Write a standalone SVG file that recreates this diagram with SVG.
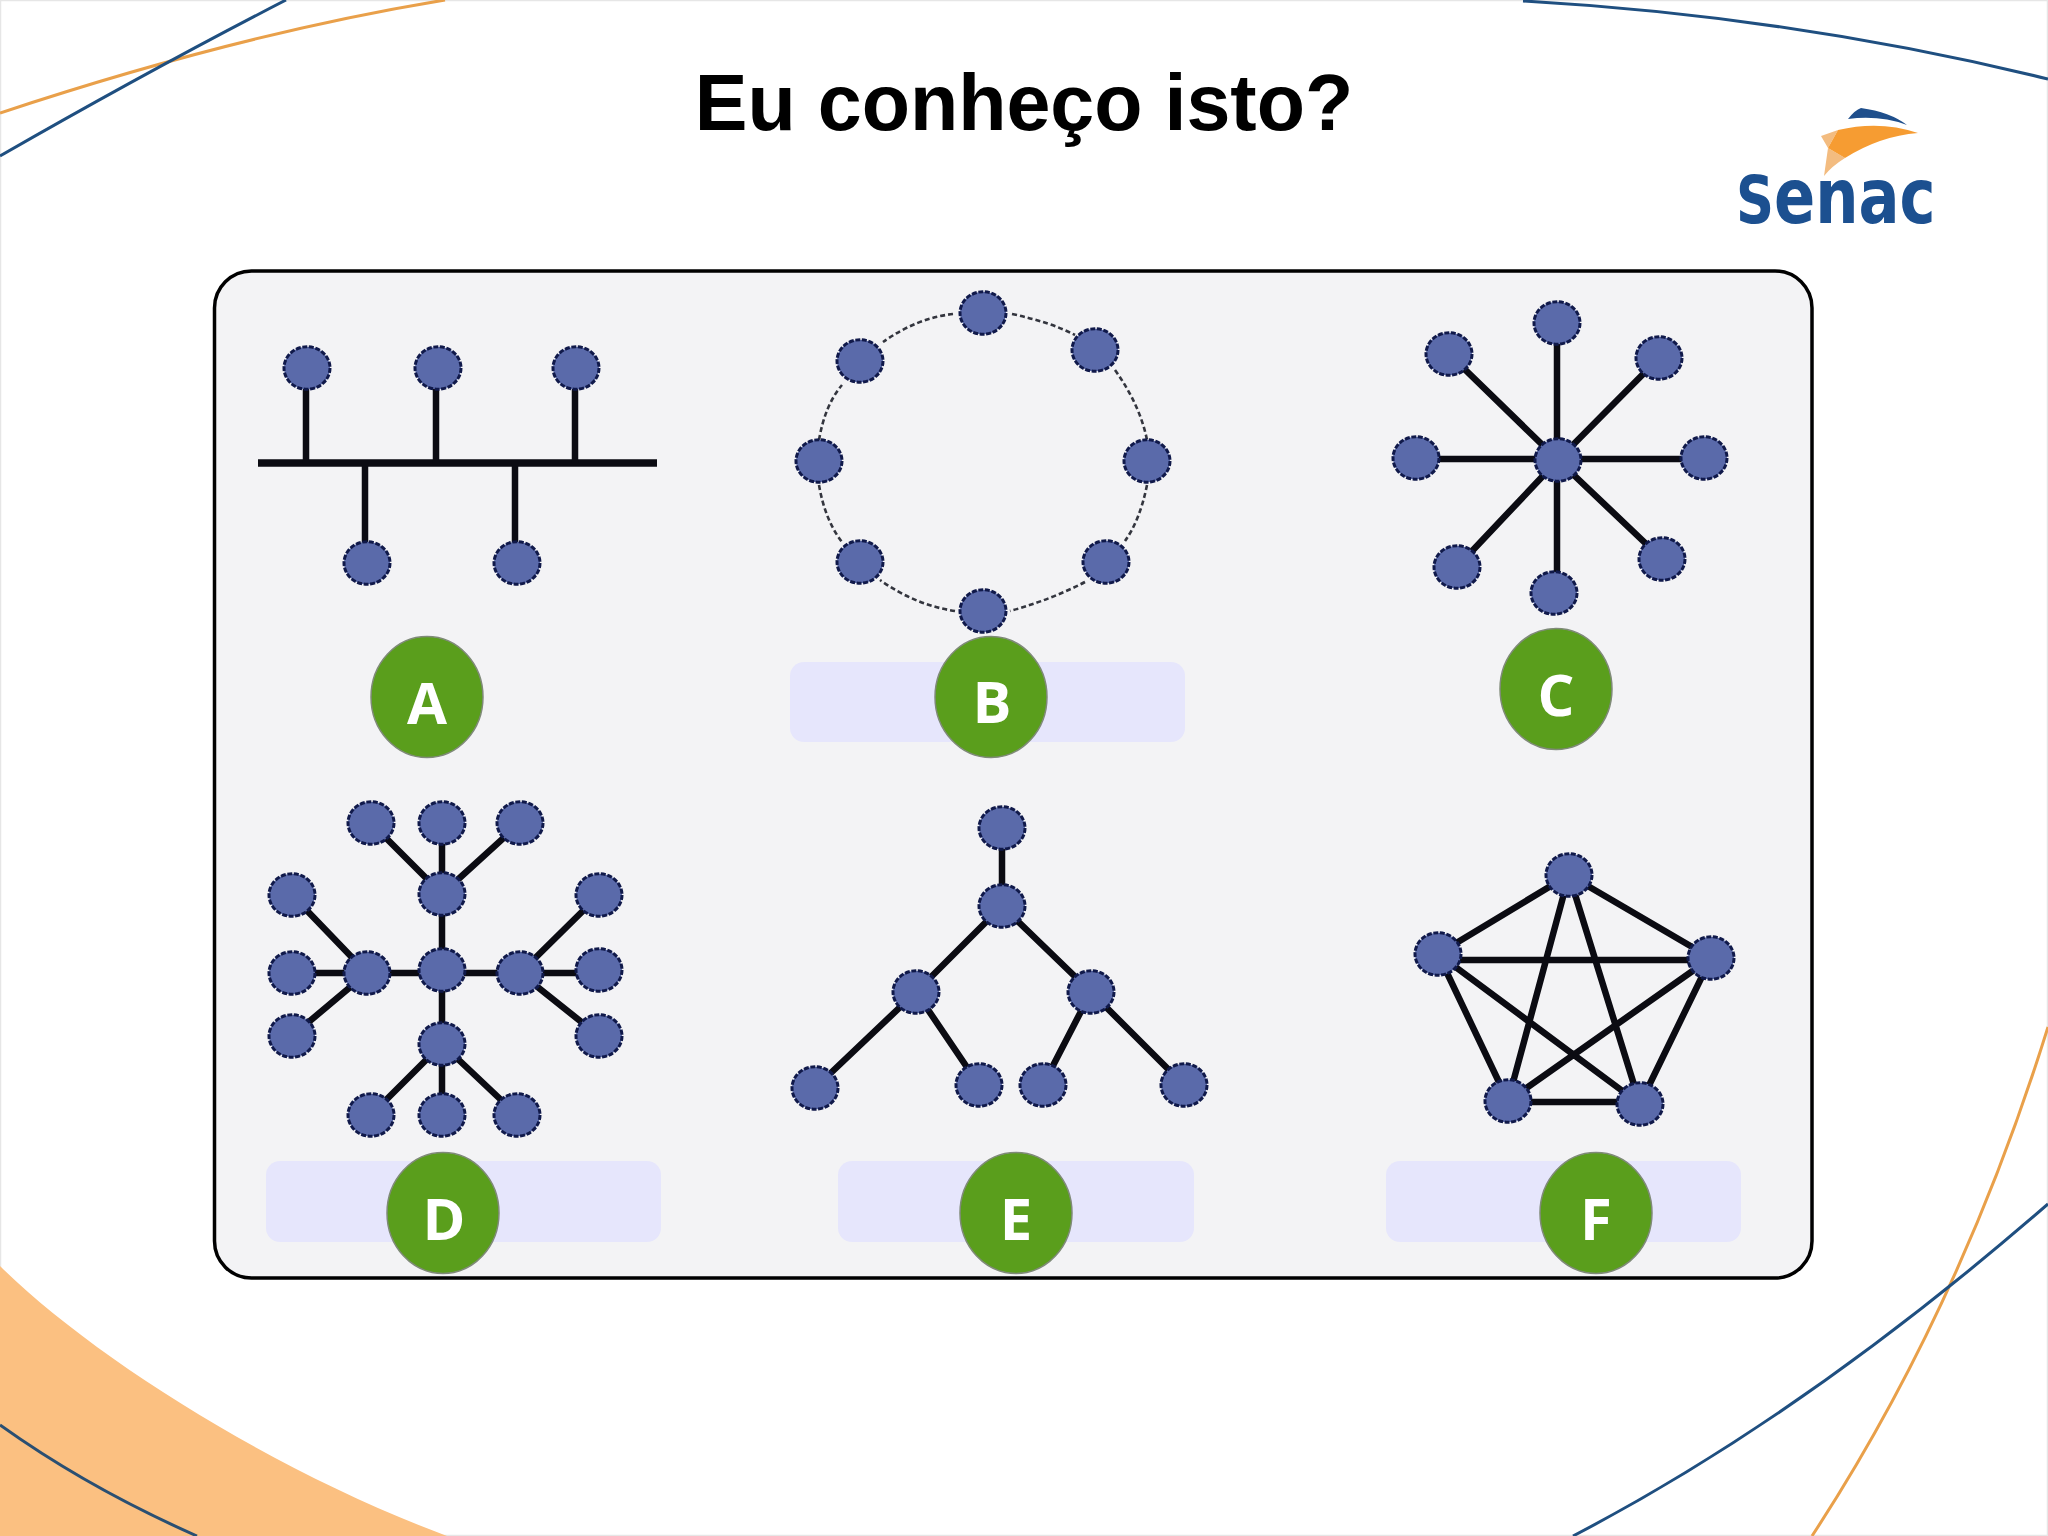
<svg xmlns="http://www.w3.org/2000/svg" width="2048" height="1536" viewBox="0 0 2048 1536">
<style>
.n{fill:#5a6aaa;stroke:#10194a;stroke-width:3;stroke-dasharray:5 1.6}
.c{stroke:#0b0b12;stroke-width:6.500;fill:none}
.r{stroke:#33353e;stroke-width:2.600;stroke-dasharray:5 3;fill:none}
.g{fill:#5a9e1c;stroke:#7f8a78;stroke-width:1.500}
.l{font-family:"Open Sans","Liberation Sans",sans-serif;font-weight:700;font-size:58px;fill:#fff;text-anchor:middle}
.p{fill:#e6e6fc}
.db{stroke:#1f4f80;stroke-width:3;fill:none}
.or{stroke:#e9a04a;stroke-width:3;fill:none}
</style>
<rect width="2048" height="1536" fill="#fff"/>
<rect x="0.500" y="0.500" width="2047" height="1535" fill="none" stroke="#e6e6e6" stroke-width="1.500"/>
<g id="background">
<path d="M0,1266C90,1355 270,1470 447,1536L0,1536Z" fill="#fbc081"/>
<path class="db" d="M0,1425Q88,1488 197,1536" style="stroke:#2a4f72"/>
<path class="or" d="M0,113Q238,34 445,0"/>
<path class="db" d="M0,156Q150,70 286,0"/>
<path class="db" d="M1523,1Q1790,16 2048,79"/>
<path class="or" d="M2048,1027Q1960,1310 1812,1536"/>
<path class="db" d="M2048,1204Q1804,1416 1573,1536"/>
</g>
<text id="title" x="1024" y="130" font-family="'Liberation Sans',Arial,sans-serif" font-weight="700" font-size="79" fill="#000" text-anchor="middle">Eu conheço isto?</text>
<g id="logo">
<path d="M1848,119Q1855,110 1861,108Q1890,112 1907,125Q1880,115 1848,119Z" fill="#1f4f8c"/>
<path d="M1821,136L1838,130L1828,148Z M1828,148L1845,158Q1832,166 1824,176Z" fill="#f3bc80"/>
<path d="M1838,130Q1880,120 1918,133Q1880,136 1845,158L1828,148Z" fill="#f69c32"/>
<text transform="translate(1736,223) scale(.8,1)" font-family="'DejaVu Sans',sans-serif" font-weight="700" font-size="76" fill="#1c5090"><tspan font-size="66">S</tspan>enac</text>
</g>
<rect id="panel" x="214.500" y="271" width="1597.500" height="1007" rx="37" fill="#f3f3f5" stroke="#000" stroke-width="3.500"/>
<g id="labels-bg">
<rect class="p" x="790" y="662" width="395" height="80" rx="14"/>
<rect class="p" x="266" y="1161" width="395" height="81" rx="14"/>
<rect class="p" x="838" y="1161" width="356" height="81" rx="14"/>
<rect class="p" x="1386" y="1161" width="355" height="81" rx="14"/>
</g>
<g id="connectors">
<path class="c" style="stroke-width:7.500" d="M258,463H657"/>
<path class="c" d="M306,368V463M436,368V463M575,368V463M365,463V563M515,463V563"/>
<path class="r" d="M953,314Q917,318 883,342M1012,314Q1050,322 1075,335M1115,370Q1140,405 1147,440M1147,485Q1140,520 1125,541M1085,582Q1050,600 1010,611M955,611Q915,605 880,580M819,485Q825,520 842,542M819,440Q825,405 842,385"/>
<path class="c" d="M1557,323V593M1416,459H1704M1449,354L1558,460M1659,358L1558,460M1457,567L1558,460M1662,559L1558,460"/>
<path class="c" d="M442,823V1115M292,973H599M371,823L442,894M520,823L442,894M292,895L367,973M292,1036L367,973M599,895L520,973M599,1036L520,973M371,1115L442,1044M517,1115L442,1044"/>
<path class="c" d="M1002,828V906M1002,906L916,992M1002,906L1091,992M916,992L815,1088M916,992L979,1085M1091,992L1043,1085M1091,992L1184,1085"/>
<path class="c" d="M1569,875L1438,954M1569,875L1711,958M1569,875L1508,1101M1569,875L1640,1104M1438,960H1711M1438,954L1508,1101M1438,954L1640,1104M1711,958L1508,1101M1711,958L1640,1104M1508,1102H1640"/>
</g>
<g id="A-nodes">
<g id="a1"><ellipse class="n" cx="307" cy="368" rx="23" ry="21.300"/></g>
<g id="a2"><ellipse class="n" cx="438" cy="368" rx="23" ry="21.300"/></g>
<g id="a3"><ellipse class="n" cx="576" cy="368" rx="23" ry="21.300"/></g>
<g id="a4"><ellipse class="n" cx="367" cy="563" rx="23" ry="21.300"/></g>
<g id="a5"><ellipse class="n" cx="517" cy="563" rx="23" ry="21.300"/></g>
</g>
<g id="B-nodes">
<g id="b1"><ellipse class="n" cx="983" cy="313" rx="23" ry="21.300"/></g>
<g id="b2"><ellipse class="n" cx="1095" cy="350" rx="23" ry="21.300"/></g>
<g id="b3"><ellipse class="n" cx="1147" cy="461" rx="23" ry="21.300"/></g>
<g id="b4"><ellipse class="n" cx="1106" cy="562" rx="23" ry="21.300"/></g>
<g id="b5"><ellipse class="n" cx="983" cy="611" rx="23" ry="21.300"/></g>
<g id="b6"><ellipse class="n" cx="860" cy="562" rx="23" ry="21.300"/></g>
<g id="b7"><ellipse class="n" cx="819" cy="461" rx="23" ry="21.300"/></g>
<g id="b8"><ellipse class="n" cx="860" cy="361" rx="23" ry="21.300"/></g>
</g>
<g id="C-nodes">
<g id="c0"><ellipse class="n" cx="1558" cy="460" rx="23" ry="21.300"/></g>
<g id="c1"><ellipse class="n" cx="1557" cy="323" rx="23" ry="21.300"/></g>
<g id="c2"><ellipse class="n" cx="1659" cy="358" rx="23" ry="21.300"/></g>
<g id="c3"><ellipse class="n" cx="1704" cy="458" rx="23" ry="21.300"/></g>
<g id="c4"><ellipse class="n" cx="1662" cy="559" rx="23" ry="21.300"/></g>
<g id="c5"><ellipse class="n" cx="1554" cy="593" rx="23" ry="21.300"/></g>
<g id="c6"><ellipse class="n" cx="1457" cy="567" rx="23" ry="21.300"/></g>
<g id="c7"><ellipse class="n" cx="1416" cy="458" rx="23" ry="21.300"/></g>
<g id="c8"><ellipse class="n" cx="1449" cy="354" rx="23" ry="21.300"/></g>
</g>
<g id="D-nodes">
<g id="d0"><ellipse class="n" cx="442" cy="970" rx="23" ry="21.300"/></g>
<g id="d1"><ellipse class="n" cx="442" cy="894" rx="23" ry="21.300"/></g>
<g id="d2"><ellipse class="n" cx="367" cy="973" rx="23" ry="21.300"/></g>
<g id="d3"><ellipse class="n" cx="520" cy="973" rx="23" ry="21.300"/></g>
<g id="d4"><ellipse class="n" cx="442" cy="1044" rx="23" ry="21.300"/></g>
<g id="d5"><ellipse class="n" cx="371" cy="823" rx="23" ry="21.300"/></g>
<g id="d6"><ellipse class="n" cx="442" cy="823" rx="23" ry="21.300"/></g>
<g id="d7"><ellipse class="n" cx="520" cy="823" rx="23" ry="21.300"/></g>
<g id="d8"><ellipse class="n" cx="292" cy="895" rx="23" ry="21.300"/></g>
<g id="d9"><ellipse class="n" cx="292" cy="973" rx="23" ry="21.300"/></g>
<g id="d10"><ellipse class="n" cx="292" cy="1036" rx="23" ry="21.300"/></g>
<g id="d11"><ellipse class="n" cx="599" cy="895" rx="23" ry="21.300"/></g>
<g id="d12"><ellipse class="n" cx="599" cy="970" rx="23" ry="21.300"/></g>
<g id="d13"><ellipse class="n" cx="599" cy="1036" rx="23" ry="21.300"/></g>
<g id="d14"><ellipse class="n" cx="371" cy="1115" rx="23" ry="21.300"/></g>
<g id="d15"><ellipse class="n" cx="442" cy="1115" rx="23" ry="21.300"/></g>
<g id="d16"><ellipse class="n" cx="517" cy="1115" rx="23" ry="21.300"/></g>
</g>
<g id="E-nodes">
<g id="e1"><ellipse class="n" cx="1002" cy="828" rx="23" ry="21.300"/></g>
<g id="e2"><ellipse class="n" cx="1002" cy="906" rx="23" ry="21.300"/></g>
<g id="e3"><ellipse class="n" cx="916" cy="992" rx="23" ry="21.300"/></g>
<g id="e4"><ellipse class="n" cx="1091" cy="992" rx="23" ry="21.300"/></g>
<g id="e5"><ellipse class="n" cx="815" cy="1088" rx="23" ry="21.300"/></g>
<g id="e6"><ellipse class="n" cx="979" cy="1085" rx="23" ry="21.300"/></g>
<g id="e7"><ellipse class="n" cx="1043" cy="1085" rx="23" ry="21.300"/></g>
<g id="e8"><ellipse class="n" cx="1184" cy="1085" rx="23" ry="21.300"/></g>
</g>
<g id="F-nodes">
<g id="f1"><ellipse class="n" cx="1569" cy="875" rx="23" ry="21.300"/></g>
<g id="f2"><ellipse class="n" cx="1438" cy="954" rx="23" ry="21.300"/></g>
<g id="f3"><ellipse class="n" cx="1711" cy="958" rx="23" ry="21.300"/></g>
<g id="f4"><ellipse class="n" cx="1508" cy="1101" rx="23" ry="21.300"/></g>
<g id="f5"><ellipse class="n" cx="1640" cy="1104" rx="23" ry="21.300"/></g>
</g>
<g id="badge-A"><ellipse class="g" cx="427" cy="697" rx="56" ry="60.500"/><text class="l" x="427" y="724">A</text></g>
<g id="badge-B"><ellipse class="g" cx="991" cy="697" rx="56" ry="60.500"/><text class="l" x="992" y="723">B</text></g>
<g id="badge-C"><ellipse class="g" cx="1556" cy="689" rx="56" ry="60.500"/><text class="l" x="1556" y="716">C</text></g>
<g id="badge-D"><ellipse class="g" cx="443" cy="1213" rx="56" ry="60.500"/><text class="l" x="444" y="1240">D</text></g>
<g id="badge-E"><ellipse class="g" cx="1016" cy="1213" rx="56" ry="60.500"/><text class="l" x="1016" y="1240">E</text></g>
<g id="badge-F"><ellipse class="g" cx="1596" cy="1213" rx="56" ry="60.500"/><text class="l" x="1596" y="1240">F</text></g>
</svg>
